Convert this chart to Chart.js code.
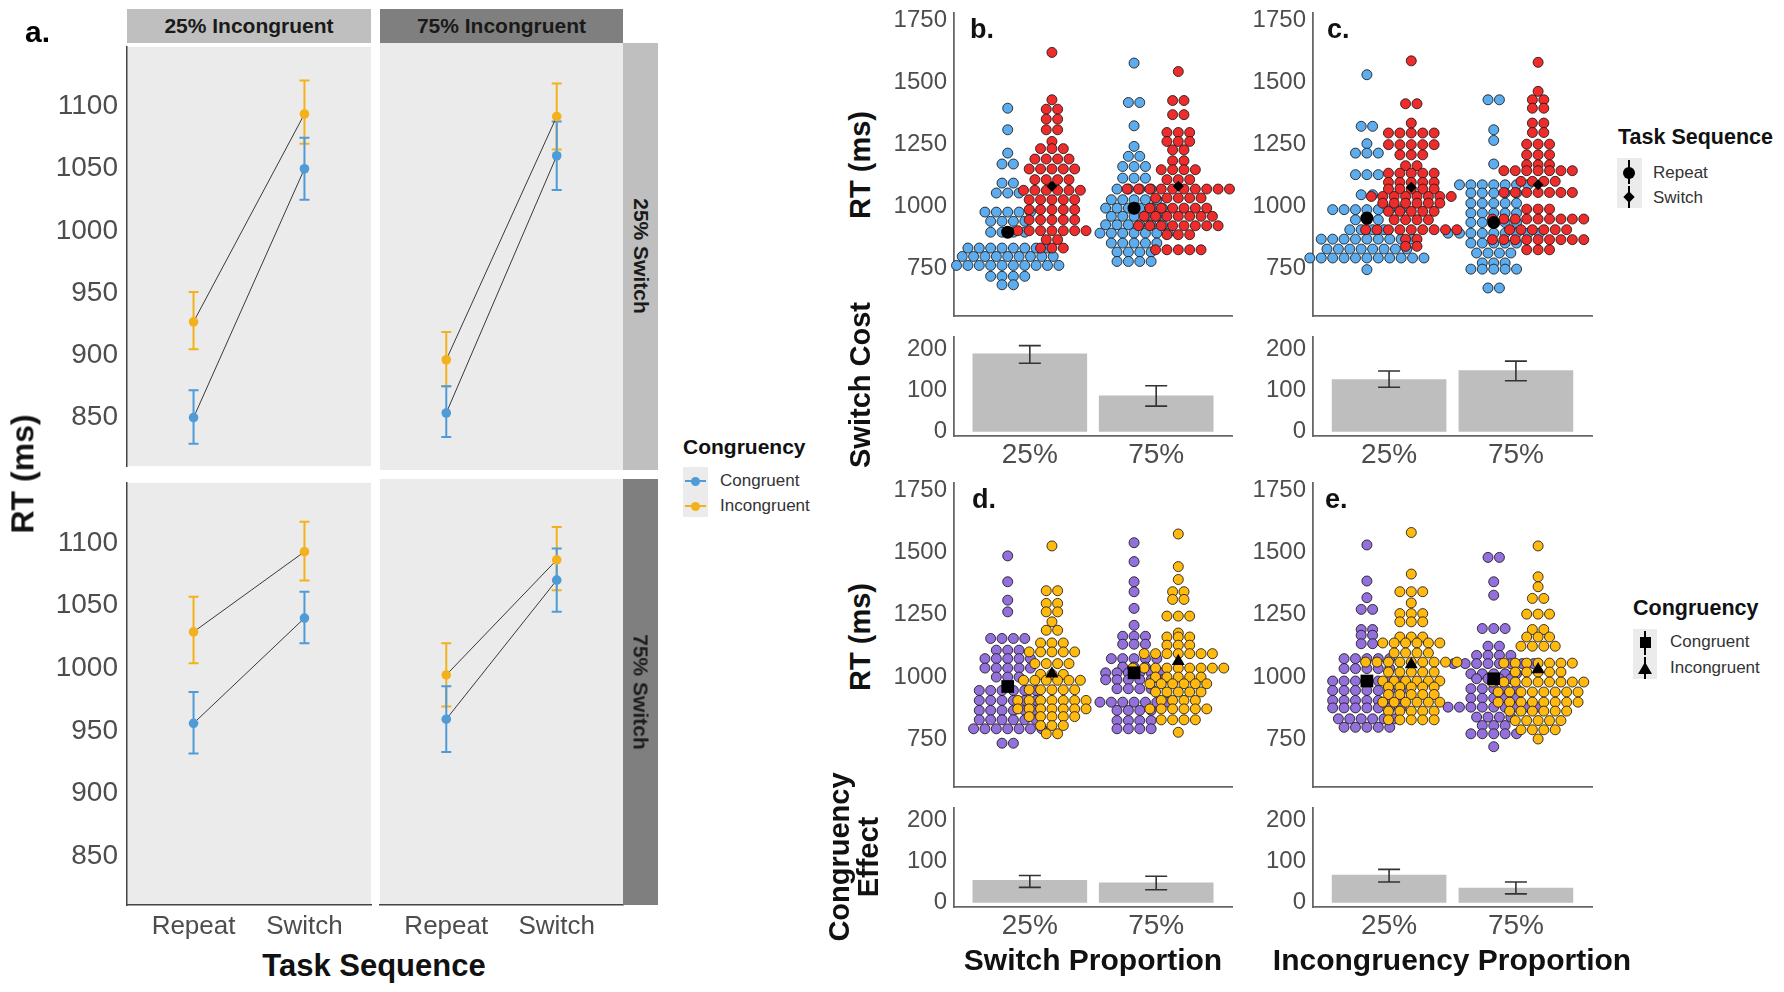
<!DOCTYPE html>
<html>
<head>
<meta charset="utf-8">
<script src="https://cdn.jsdelivr.net/npm/chart.js@4.4.1/dist/chart.umd.min.js"></script>
<style>
  body { margin: 0; background: #fff; }
  #fig { position: relative; width: 1784px; height: 992px; overflow: hidden; font-family: "Liberation Sans", Arial, sans-serif; }
  #fig canvas { position: absolute; }
  .t { position: absolute; white-space: nowrap; line-height: 1.1; }
  .strip { position: absolute; display: flex; align-items: center; justify-content: center; font-weight: bold; font-size: 21px; color: #1a1a1a; }
  .box { position: absolute; }
</style>
</head>
<body>
<div id="fig"></div>
<script>
// ---- data ----
const taskSeq = ['Repeat', 'Switch'];
const propLabels = ['25%', '75%'];
const aTicks = [850, 900, 950, 1000, 1050, 1100];
const rtTicks = [750, 1000, 1250, 1500, 1750];
const diffTicks = [0, 100, 200];

// panel a, facets: 25%Inc/25%Sw, 75%Inc/25%Sw, 25%Inc/75%Sw, 75%Inc/75%Sw
const congMean = [[850, 1050], [856, 1059], [956, 1040], [958, 1068]];
const congLo = [[829, 1025], [837, 1032], [932, 1020], [932, 1043]];
const congHi = [[872, 1075], [877, 1086], [981, 1061], [984, 1093]];
const incMean = [[927, 1094], [898, 1090], [1029, 1093], [993, 1084]];
const incLo = [[905, 1070], [877, 1064], [1004, 1070], [968, 1060]];
const incHi = [[951, 1121], [920, 1116], [1057, 1117], [1018, 1110]];

// dot rows: [RT, number of participants in the row]
const bRep25 = [[1396,1],[1309,1],[1215,1],[1171,2],[1094,2],[1054,3],[977,5],[940,4],[896,4],[832,8],[798,9],[762,10],[718,4],[684,2]];
const bSw25 = [[1621,1],[1430,1],[1392,2],[1352,2],[1309,2],[1262,1],[1233,3],[1191,4],[1151,5],[1108,4],[1065,6],[1027,5],[987,5],[946,5],[902,7],[866,2],[832,3]];
const bRep75 = [[1578,1],[1419,2],[1325,1],[1242,1],[1202,2],[1161,3],[1114,3],[1070,4],[1027,5],[993,6],[960,5],[926,6],[892,7],[852,5],[816,4],[778,4]];
const bSw75 = [[1544,1],[1427,2],[1370,2],[1298,3],[1262,3],[1228,2],[1184,2],[1148,4],[1108,3],[1070,10],[1034,5],[993,6],[960,7],[922,8],[886,3],[825,5]];

const cRep25 = [[1531,1],[1323,2],[1253,1],[1215,3],[1128,3],[1047,2],[987,7],[946,3],[906,4],[868,9],[828,8],[792,11],[745,1]];
const cSw25 = [[1587,1],[1414,2],[1336,1],[1296,5],[1249,5],[1208,3],[1164,2],[1134,5],[1097,5],[1070,5],[1040,8],[1013,6],[980,5],[946,4],[906,9],[868,2],[839,2]];
const cRep75 = [[1430,2],[1309,1],[1266,1],[1171,1],[1087,7],[1054,5],[1013,5],[973,5],[935,5],[892,9],[852,5],[812,4],[772,3],[747,5],[671,2]];
const cSw75 = [[1581,1],[1464,1],[1430,2],[1396,2],[1336,2],[1298,2],[1251,3],[1208,3],[1168,3],[1144,7],[1101,4],[1056,7],[989,3],[949,9],[906,6],[866,9],[825,3]];

const dCong25 = [[1487,1],[1383,1],[1309,1],[1262,1],[1155,4],[1108,3],[1074,5],[1036,5],[1000,3],[946,6],[906,6],[866,6],[828,6],[792,7],[734,2]];
const dInc25 = [[1527,1],[1347,2],[1296,2],[1262,2],[1222,1],[1188,2],[1137,3],[1101,5],[1054,4],[1011,3],[987,6],[949,5],[906,7],[872,7],[841,5],[805,3],[772,2]];
const dCong75 = [[1540,1],[1464,1],[1383,1],[1343,1],[1276,1],[1208,1],[1164,3],[1132,3],[1074,5],[1040,3],[1017,6],[989,6],[953,4],[899,7],[866,4],[825,4],[792,4]];
const dInc75 = [[1575,1],[1444,1],[1392,1],[1343,2],[1312,2],[1245,3],[1177,1],[1161,3],[1128,3],[1094,7],[1036,9],[1000,5],[973,6],[940,5],[906,4],[872,6],[828,4],[778,1]];

const eCong25 = [[1531,1],[1386,1],[1319,1],[1272,2],[1191,2],[1168,2],[1134,2],[1074,5],[1034,5],[984,7],[946,7],[906,7],[876,7],[832,6],[798,5]];
const eInc25 = [[1581,1],[1414,1],[1343,3],[1298,1],[1255,3],[1222,3],[1161,3],[1137,6],[1097,4],[1060,9],[1020,5],[984,6],[960,5],[930,5],[899,6],[863,5],[828,5]];
const eCong75 = [[1481,2],[1383,1],[1329,1],[1195,3],[1124,2],[1087,4],[1054,8],[1013,5],[993,4],[953,5],[915,5],[879,9],[839,4],[805,3],[772,5],[720,1]];
const eInc75 = [[1527,1],[1403,1],[1363,1],[1316,2],[1253,3],[1191,2],[1161,3],[1124,4],[1056,7],[1020,5],[980,9],[940,8],[899,8],[863,6],[825,5],[788,4],[751,1]];

// group means (25%, 75%)
const bRepMean = [896, 993], bSwMean = [1081, 1081];
const cRepMean = [953, 935], cSwMean = [1077, 1087];
const dCongMean = [962, 1017], dIncMean = [1013, 1063];
const eCongMean = [984, 993], eIncMean = [1050, 1030];

// difference scores (25%, 75%)
const switchCostBySw = [190, 87], switchCostBySwLo = [167, 62], switchCostBySwHi = [210, 112];
const switchCostByInc = [127, 149], switchCostByIncLo = [108, 124], switchCostByIncHi = [148, 172];
const congEffBySw = [54, 48], congEffBySwLo = [37, 31], congEffBySwHi = [66, 64];
const congEffByInc = [67, 35], congEffByIncLo = [50, 21], congEffByIncHi = [81, 50];

// ---- styling ----
const FONT = '"Liberation Sans", Arial, sans-serif';
const BLUE_A = '#4f9bd8', GOLD_A = '#f3b21d';
const REP_COL = '#5CACEE', SW_COL = '#EE2C2C', CONG_COL = '#9370DB', INC_COL = '#FFB90F';
const TICK_COL = '#4d4d4d';
const STEP = 0.09, DODGE = 0.175, PAD = 22;
const fig = document.getElementById('fig');

function addCanvas(area, yw, xh) {
  const left = area.l - (yw > 0 ? yw : PAD);
  const top = area.t - PAD;
  const w = area.r + PAD - left;
  const h = area.b + (xh > 0 ? xh : PAD) - top;
  const c = document.createElement('canvas');
  c.width = w; c.height = h;
  c.style.left = left + 'px'; c.style.top = top + 'px';
  c.style.width = w + 'px'; c.style.height = h + 'px';
  fig.appendChild(c);
  return { canvas: c, padding: { left: yw > 0 ? 0 : PAD, top: PAD, right: PAD, bottom: xh > 0 ? 0 : PAD } };
}

function text(str, x, y, css, anchor) {
  const d = document.createElement('div');
  d.className = 't';
  d.innerHTML = str;
  d.style.left = x + 'px';
  d.style.top = y + 'px';
  d.style.transform = anchor || 'translate(-50%,-50%)';
  Object.assign(d.style, css || {});
  fig.appendChild(d);
  return d;
}

function box(l, t, w, h, css) {
  const d = document.createElement('div');
  d.className = 'box';
  Object.assign(d.style, { left: l + 'px', top: t + 'px', width: w + 'px', height: h + 'px' }, css || {});
  fig.appendChild(d);
  return d;
}

const fixTicks = vals => s => { s.ticks = vals.map(v => ({ value: v })); };

const panelBg = {
  id: 'panelBg',
  beforeDraw(chart) {
    const a = chart.chartArea, ctx = chart.ctx;
    ctx.save();
    ctx.fillStyle = '#ebebeb';
    ctx.fillRect(a.left, a.top, a.right - a.left, a.bottom - a.top);
    ctx.restore();
  }
};

function errPlugin(sets, hook) {
  const p = { id: 'errBars' };
  p[hook] = chart => {
    const ctx = chart.ctx, x = chart.scales.x, y = chart.scales.y;
    ctx.save();
    sets.forEach(s => {
      ctx.strokeStyle = s.color;
      ctx.lineWidth = s.width;
      s.xs.forEach((xv, i) => {
        const px = x.getPixelForValue(xv);
        const lo = y.getPixelForValue(s.lo[i]), hi = y.getPixelForValue(s.hi[i]);
        ctx.beginPath();
        ctx.moveTo(px, lo); ctx.lineTo(px, hi);
        ctx.moveTo(px - s.cap, lo); ctx.lineTo(px + s.cap, lo);
        ctx.moveTo(px - s.cap, hi); ctx.lineTo(px + s.cap, hi);
        ctx.stroke();
      });
    });
    ctx.restore();
  };
  return p;
}

const baseOpts = (padding) => ({
  responsive: false, animation: false, devicePixelRatio: 1,
  layout: { padding },
  plugins: { legend: { display: false }, tooltip: { enabled: false } }
});

// ---- panel a ----
const facetAreas = [
  { l: 127, t: 43, r: 371, b: 470 }, { l: 380, t: 43, r: 623, b: 470 },
  { l: 127, t: 479, r: 371, b: 905 }, { l: 380, t: 479, r: 623, b: 905 }
];

facetAreas.forEach((area, f) => {
  const showY = f % 2 === 0, showX = f >= 2;
  const cv = addCanvas(area, showY ? 87 : 0, showX ? 40 : 0);
  const pts = arr => taskSeq.map((t, i) => ({ x: i + 1, y: arr[f][i] }));
  new Chart(cv.canvas, {
    type: 'line',
    data: {
      datasets: [
        { label: 'Congruent', data: pts(congMean), borderColor: '#3a3a3a', borderWidth: 1,
          pointRadius: 4.8, pointBackgroundColor: BLUE_A, pointBorderWidth: 0 },
        { label: 'Incongruent', data: pts(incMean), borderColor: '#3a3a3a', borderWidth: 1,
          pointRadius: 4.8, pointBackgroundColor: GOLD_A, pointBorderWidth: 0 }
      ]
    },
    options: Object.assign(baseOpts(cv.padding), {
      scales: {
        x: {
          type: 'linear', min: 0.4, max: 2.6, offset: false, display: showX,
          grid: { display: false, drawTicks: false },
          border: { display: true, color: '#444', width: 1.5 },
          afterBuildTicks: fixTicks([1, 2]),
          ticks: { autoSkip: false, callback: v => taskSeq[v - 1],
                   font: { family: FONT, size: 26 }, color: TICK_COL, padding: 6 },
          afterFit: s => { s.height = showX ? 40 : 0; }
        },
        y: {
          min: 811, max: 1148, display: showY,
          grid: { display: false, drawTicks: false },
          border: { display: true, color: '#444', width: 1.5 },
          afterBuildTicks: fixTicks(aTicks),
          ticks: { callback: v => String(v), font: { family: FONT, size: 28 }, color: TICK_COL, padding: 9 },
          afterFit: s => { s.width = showY ? 87 : 0; }
        }
      }
    }),
    plugins: [panelBg, errPlugin([
      { xs: [1, 2], lo: incLo[f], hi: incHi[f], color: GOLD_A, width: 2, cap: 5 },
      { xs: [1, 2], lo: congLo[f], hi: congHi[f], color: BLUE_A, width: 2, cap: 5 }
    ], 'beforeDatasetsDraw')]
  });
});

// strips
const s1 = box(127, 9, 244, 34, { background: '#bfbfbf' }); s1.className = 'strip'; s1.textContent = '25% Incongruent';
const s2 = box(380, 9, 243, 34, { background: '#7f7f7f' }); s2.className = 'strip'; s2.textContent = '75% Incongruent';
box(623, 43, 35, 427, { background: '#bfbfbf' });
box(623, 479, 35, 426, { background: '#7f7f7f' });
text('25% Switch', 641, 256, { fontWeight: 'bold', fontSize: '21px', color: '#1a1a1a' }, 'translate(-50%,-50%) rotate(90deg)');
text('75% Switch', 641, 692, { fontWeight: 'bold', fontSize: '21px', color: '#1a1a1a' }, 'translate(-50%,-50%) rotate(90deg)');

text('a.', 25, 31, { fontWeight: 'bold', fontSize: '30px', color: '#000' }, 'translate(0,-50%)');
text('RT (ms)', 23, 474, { fontWeight: 'bold', fontSize: '32px', color: '#111' }, 'translate(-50%,-50%) rotate(-90deg)');
text('Task Sequence', 374, 966, { fontWeight: 'bold', fontSize: '31px', color: '#111' });

// legend a
text('Congruency', 683, 447, { fontWeight: 'bold', fontSize: '21px', color: '#111' }, 'translate(0,-50%)');
box(683, 467, 25, 50, { background: '#ebebeb' });
box(685, 480, 21, 2, { background: BLUE_A });
box(690.5, 476.5, 9, 9, { background: BLUE_A, borderRadius: '50%' });
box(685, 505, 21, 2, { background: GOLD_A });
box(690.5, 501.5, 9, 9, { background: GOLD_A, borderRadius: '50%' });
text('Congruent', 720, 481, { fontSize: '17px', color: '#333' }, 'translate(0,-50%)');
text('Incongruent', 720, 506, { fontSize: '17px', color: '#333' }, 'translate(0,-50%)');

// ---- panels b-e: dot plots ----
function stackRows(rows, cx) {
  const pts = [];
  rows.forEach(([rt, n]) => {
    for (let j = 0; j < n; j++) pts.push({ x: cx + (j - (n - 1) / 2) * STEP, y: rt });
  });
  return pts;
}

const axisStyle = { display: true, color: '#666', width: 1.8 };

function swarmChart(area, groups, means) {
  const cv = addCanvas(area, 64, 0);
  const datasets = [];
  means.forEach(m => datasets.push({
    data: m.vals.map((v, i) => ({ x: i + 1 + m.dx, y: v })),
    pointStyle: m.style, pointRadius: m.r, backgroundColor: '#000', borderColor: '#000', borderWidth: 0,
    order: 0, clip: false
  }));
  groups.forEach(g => datasets.push({
    data: stackRows(g.rows, g.x),
    pointRadius: 5, borderWidth: 1, backgroundColor: g.color, borderColor: 'rgba(25,25,25,0.85)',
    order: g.order, clip: false
  }));
  new Chart(cv.canvas, {
    type: 'scatter',
    data: { datasets },
    options: Object.assign(baseOpts(cv.padding), {
      scales: {
        x: {
          type: 'linear', min: 0.4, max: 2.6, offset: false,
          grid: { display: false, drawTicks: false }, border: axisStyle,
          ticks: { display: false }, afterFit: s => { s.height = 0; }
        },
        y: {
          min: 558, max: 1780,
          grid: { display: false, drawTicks: false }, border: axisStyle,
          afterBuildTicks: fixTicks(rtTicks),
          ticks: { callback: v => String(v), font: { family: FONT, size: 24 }, color: TICK_COL, padding: 7 },
          afterFit: s => { s.width = 64; }
        }
      }
    })
  });
}

function barChart(area, vals, lo, hi) {
  const cv = addCanvas(area, 64, 40);
  new Chart(cv.canvas, {
    type: 'bar',
    data: { datasets: [{ data: vals.map((v, i) => ({ x: i + 1, y: v })), backgroundColor: '#bebebe', barThickness: 114 }] },
    options: Object.assign(baseOpts(cv.padding), {
      scales: {
        x: {
          type: 'linear', min: 0.4, max: 2.6, offset: false,
          grid: { display: false, drawTicks: false, offset: false }, border: axisStyle,
          afterBuildTicks: fixTicks([1, 2]),
          ticks: { autoSkip: false, callback: v => propLabels[v - 1],
                   font: { family: FONT, size: 28 }, color: TICK_COL, padding: 2 },
          afterFit: s => { s.height = 40; }
        },
        y: {
          min: -11, max: 231,
          grid: { display: false, drawTicks: false }, border: axisStyle,
          afterBuildTicks: fixTicks(diffTicks),
          ticks: { callback: v => String(v), font: { family: FONT, size: 24 }, color: TICK_COL, padding: 7 },
          afterFit: s => { s.width = 64; }
        }
      }
    }),
    plugins: [errPlugin([{ xs: [1, 2], lo, hi, color: '#333', width: 1.6, cap: 11 }], 'afterDatasetsDraw')]
  });
}

const colL = { l: 954, r: 1232 }, colR = { l: 1313, r: 1592 };
const rowTop = { t: 13, b: 316 }, rowBot = { t: 483, b: 787 };
const barTop = { t: 337, b: 436 }, barBot = { t: 808, b: 907 };
const circleMean = (vals) => ({ vals, dx: -DODGE, style: 'circle', r: 6.5 });
const diamondMean = (vals) => ({ vals, dx: DODGE, style: 'rectRot', r: 5.5 });
const squareMean = (vals) => ({ vals, dx: -DODGE, style: 'rect', r: 9 });
const triMean = (vals) => ({ vals, dx: DODGE, style: 'triangle', r: 7.5 });

swarmChart(Object.assign({}, colL, rowTop), [
  { rows: bRep25, x: 1 - DODGE, color: REP_COL, order: 2 }, { rows: bSw25, x: 1 + DODGE, color: SW_COL, order: 1 },
  { rows: bRep75, x: 2 - DODGE, color: REP_COL, order: 2 }, { rows: bSw75, x: 2 + DODGE, color: SW_COL, order: 1 }
], [circleMean(bRepMean), diamondMean(bSwMean)]);

swarmChart(Object.assign({}, colR, rowTop), [
  { rows: cRep25, x: 1 - DODGE, color: REP_COL, order: 2 }, { rows: cSw25, x: 1 + DODGE, color: SW_COL, order: 1 },
  { rows: cRep75, x: 2 - DODGE, color: REP_COL, order: 2 }, { rows: cSw75, x: 2 + DODGE, color: SW_COL, order: 1 }
], [circleMean(cRepMean), diamondMean(cSwMean)]);

swarmChart(Object.assign({}, colL, rowBot), [
  { rows: dCong25, x: 1 - DODGE, color: CONG_COL, order: 2 }, { rows: dInc25, x: 1 + DODGE, color: INC_COL, order: 1 },
  { rows: dCong75, x: 2 - DODGE, color: CONG_COL, order: 2 }, { rows: dInc75, x: 2 + DODGE, color: INC_COL, order: 1 }
], [squareMean(dCongMean), triMean(dIncMean)]);

swarmChart(Object.assign({}, colR, rowBot), [
  { rows: eCong25, x: 1 - DODGE, color: CONG_COL, order: 2 }, { rows: eInc25, x: 1 + DODGE, color: INC_COL, order: 1 },
  { rows: eCong75, x: 2 - DODGE, color: CONG_COL, order: 2 }, { rows: eInc75, x: 2 + DODGE, color: INC_COL, order: 1 }
], [squareMean(eCongMean), triMean(eIncMean)]);

barChart(Object.assign({}, colL, barTop), switchCostBySw, switchCostBySwLo, switchCostBySwHi);
barChart(Object.assign({}, colR, barTop), switchCostByInc, switchCostByIncLo, switchCostByIncHi);
barChart(Object.assign({}, colL, barBot), congEffBySw, congEffBySwLo, congEffBySwHi);
barChart(Object.assign({}, colR, barBot), congEffByInc, congEffByIncLo, congEffByIncHi);

// titles and panel letters
const bold = (size) => ({ fontWeight: 'bold', fontSize: size + 'px', color: '#111' });
text('b.', 970, 30, bold(27), 'translate(0,-50%)');
text('c.', 1327, 30, bold(27), 'translate(0,-50%)');
text('d.', 972, 500, bold(27), 'translate(0,-50%)');
text('e.', 1325, 500, bold(27), 'translate(0,-50%)');
text('RT (ms)', 861, 165, bold(29), 'translate(-50%,-50%) rotate(-90deg)');
text('Switch Cost', 861, 385, bold(29), 'translate(-50%,-50%) rotate(-90deg)');
text('RT (ms)', 861, 637, bold(29), 'translate(-50%,-50%) rotate(-90deg)');
text('Congruency<br>Effect', 854, 857, Object.assign(bold(29), { textAlign: 'center', lineHeight: '29px' }), 'translate(-50%,-50%) rotate(-90deg)');
text('Switch Proportion', 1093, 959, bold(30));
text('Incongruency Proportion', 1452, 959, bold(30));

// legend: task sequence
text('Task Sequence', 1618, 138, bold(21.5), 'translate(0,-50%)');
box(1617, 158, 25, 50, { background: '#ebebeb' });
box(1628.3, 160, 1.5, 24, { background: '#000' });
box(1623, 166.5, 12, 12, { background: '#000', borderRadius: '50%' });
box(1628.3, 186, 1.5, 22, { background: '#000' });
box(1624.5, 192.5, 8, 8, { background: '#000', transform: 'rotate(45deg)' });
text('Repeat', 1653, 173, { fontSize: '17px', color: '#333' }, 'translate(0,-50%)');
text('Switch', 1653, 198, { fontSize: '17px', color: '#333' }, 'translate(0,-50%)');

// legend: congruency
text('Congruency', 1633, 609, bold(21.5), 'translate(0,-50%)');
box(1633, 629, 24, 50, { background: '#ebebeb' });
box(1644.3, 631, 1.5, 24, { background: '#000' });
box(1639.5, 636.5, 11, 11, { background: '#000' });
box(1644.3, 657, 1.5, 22, { background: '#000' });
box(1638, 662, 0, 0, { borderLeft: '7px solid transparent', borderRight: '7px solid transparent', borderBottom: '12px solid #000' });
text('Congruent', 1670, 642, { fontSize: '17px', color: '#333' }, 'translate(0,-50%)');
text('Incongruent', 1670, 668, { fontSize: '17px', color: '#333' }, 'translate(0,-50%)');
</script>
</body>
</html>
